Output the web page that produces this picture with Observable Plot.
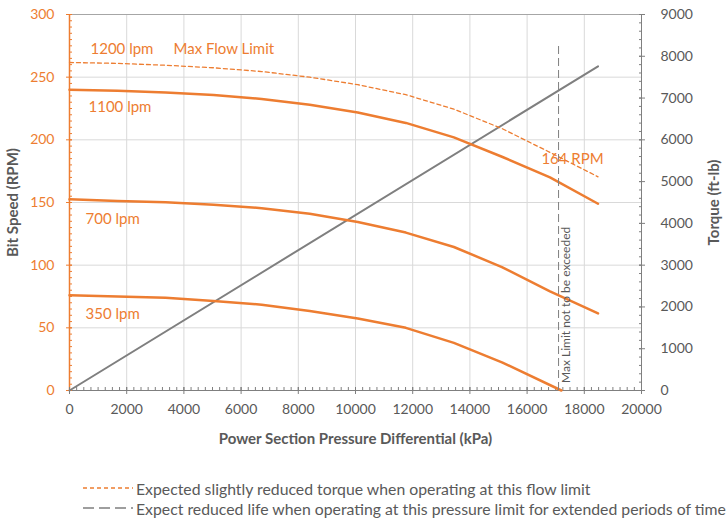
<!DOCTYPE html>
<html><head><meta charset="utf-8">
<script src="https://cdn.jsdelivr.net/npm/d3@7"></script>
<script src="https://cdn.jsdelivr.net/npm/@observablehq/plot@0.6"></script>
<style>
body{margin:0;background:#fff;}
#wrap{position:relative;width:728px;height:518px;font-family:Lato,sans-serif;overflow:hidden;}
#chart svg{display:block;}
#chart g[aria-label$="axis label"] text{font-weight:bold;fill:#595959;font-size:15px;}
.leg{position:absolute;left:83px;height:20px;display:flex;align-items:center;white-space:nowrap;font-size:15.8px;color:#595959;}
.leg svg{margin-right:3px;}
</style></head>
<body><div id="wrap"><div id="chart"></div><div id="legend"></div></div>
<script>
const pressure = [0,1680,3360,5040,6720,8400,10080,11760,13440,15120,16800,18480];
const rpm1200 = [261.7,261,259.5,257.5,254.5,250,244,236,224.5,209,190,170.5];
const rpm1100 = [240,239.2,237.8,235.8,232.6,228,221.8,213.5,202,186.5,170,149];
const rpm700  = [152.5,151.2,150.2,148.2,145.5,141,134.5,126,114.5,98.5,79,61.5];
const pressure350 = [0,1680,3360,5040,6720,8400,10080,11760,13440,15120,17200];
const rpm350  = [76,75,74,71.5,68.5,63.5,57.5,50,38,22.5,0];
const torquePressure = [0,18480];
const torque = [0,7760];
const maxPressure = 17100;
const maxPressureTop = 275;
const xTicks = [0,2000,4000,6000,8000,10000,12000,14000,16000,18000,20000];
const rpmTicks = [0,50,100,150,200,250,300];
const torqueTicks = [0,1000,2000,3000,4000,5000,6000,7000,8000,9000];
const labelText = ["1200 lpm","Max Flow Limit","1100 lpm","700 lpm","350 lpm","164 RPM"];
const labelX = [734,3636,664,560,560,16500];
const labelY = [272.5,272.5,226,136.4,60.6,184.3];
const limitNote = "Max Limit not to be exceeded";
const limitNoteX = 17380, limitNoteY = 6;
const legendTexts = ["Expected slightly reduced torque when operating at this flow limit",
  "Expect reduced life when operating at this pressure limit for extended periods of time"];

const ORANGE = "#ED7D31", GREY = "#7F7F7F", TXT = "#595959", GRID = "#D9D9D9";
const T = 30; // torque to rpm scale factor (9000 / 300)
const fmt = d => String(Math.round(d));

const mk = (xs, ys) => xs.map((x, i) => ({x, y: ys[i]}));
const labels = labelText.map((t, i) => ({t, x: labelX[i], y: labelY[i]}));

const chart = Plot.plot({
  width: 728, height: 455,
  marginLeft: 69, marginRight: 87, marginTop: 14, marginBottom: 65,
  style: {fontFamily: "Lato, sans-serif", fontSize: "14px", background: "#fff"},
  x: {domain: [0, 20000]},
  y: {domain: [0, 300]},
  marks: [
    Plot.ruleX(xTicks.slice(1, -1), {stroke: GRID}),
    Plot.ruleY(rpmTicks.slice(1, -1), {stroke: GRID}),
    Plot.ruleY([300], {stroke: "#A6A6A6"}),
    Plot.ruleY([0], {stroke: GREY}),
    Plot.ruleX([20000], {stroke: GREY}),
    Plot.ruleX([0], {stroke: ORANGE, strokeWidth: 1.5}),
    // minor / major ticks
    Plot.axisY(d3.range(0, 301, 5), {anchor: "left", tickSize: 3, dx: 3, tickFormat: () => "", stroke: ORANGE, label: null}),
    Plot.axisY(rpmTicks, {anchor: "left", tickSize: 6, dx: 3, tickFormat: () => "", stroke: ORANGE, label: null}),
    Plot.axisY(d3.range(0, 9001, 200).map(t => t / T), {anchor: "right", tickSize: 3, dx: -3, tickFormat: () => "", stroke: GREY, label: null}),
    Plot.axisY(torqueTicks.map(t => t / T), {anchor: "right", tickSize: 6, dx: -3, tickFormat: () => "", stroke: GREY, label: null}),
    Plot.axisX(d3.range(0, 20001, 250), {anchor: "bottom", tickSize: 3, dy: -3, tickFormat: () => "", stroke: GREY, label: null}),
    Plot.axisX(xTicks, {anchor: "bottom", tickSize: 7, dy: -3, tickFormat: () => "", stroke: GREY, label: null}),
    // labelled axes
    Plot.axisY(rpmTicks, {anchor: "left", tickSize: 0, tickPadding: 15, fill: ORANGE, tickFormat: fmt,
      label: "Bit Speed (RPM)", labelAnchor: "center", labelOffset: 62, labelArrow: "none"}),
    Plot.axisY(torqueTicks.map(t => t / T), {anchor: "right", tickSize: 0, tickPadding: 19, fill: TXT,
      tickFormat: d => fmt(d * T), label: "Torque (ft-lb)", labelAnchor: "center", labelOffset: 77, labelArrow: "none"}),
    Plot.axisX(xTicks, {anchor: "bottom", tickSize: 0, tickPadding: 14, fill: TXT, tickFormat: fmt,
      label: "Power Section Pressure Differential (kPa)", labelAnchor: "center", labelOffset: 53, labelArrow: "none"}),
    // data
    Plot.line(mk(torquePressure, torque.map(t => t / T)), {x: "x", y: "y", stroke: GREY, strokeWidth: 2}),
    Plot.line(mk(pressure, rpm1200), {x: "x", y: "y", stroke: ORANGE, strokeWidth: 1.3, strokeDasharray: "4,3"}),
    Plot.line(mk(pressure, rpm1100), {x: "x", y: "y", stroke: ORANGE, strokeWidth: 2.5}),
    Plot.line(mk(pressure, rpm700), {x: "x", y: "y", stroke: ORANGE, strokeWidth: 2.5}),
    Plot.line(mk(pressure350, rpm350), {x: "x", y: "y", stroke: ORANGE, strokeWidth: 2.5}),
    Plot.ruleX([maxPressure], {y1: 0, y2: maxPressureTop, stroke: GREY, strokeDasharray: "8,4"}),
    Plot.text(labels, {x: "x", y: "y", text: "t", textAnchor: "start", fill: ORANGE, fontSize: 15}),
    Plot.text([limitNote], {x: () => limitNoteX, y: () => limitNoteY, text: d => d, rotate: -90, textAnchor: "start", fill: TXT, fontSize: 12})
  ]
});
document.getElementById("chart").appendChild(chart);

const leg = document.getElementById("legend");
const samples = [
  `<svg width="50" height="4"><line x1="0" y1="2" x2="50" y2="2" stroke="${ORANGE}" stroke-width="1.3" stroke-dasharray="4,3"/></svg>`,
  `<svg width="50" height="4"><line x1="0" y1="2" x2="50" y2="2" stroke="${GREY}" stroke-width="1.3" stroke-dasharray="11,5"/></svg>`
];
legendTexts.forEach((t, i) => {
  const d = document.createElement("div");
  d.className = "leg";
  d.style.top = (478 + i * 20) + "px";
  d.innerHTML = samples[i];
  const s = document.createElement("span");
  s.textContent = t;
  d.appendChild(s);
  leg.appendChild(d);
});
</script>
</body></html>
